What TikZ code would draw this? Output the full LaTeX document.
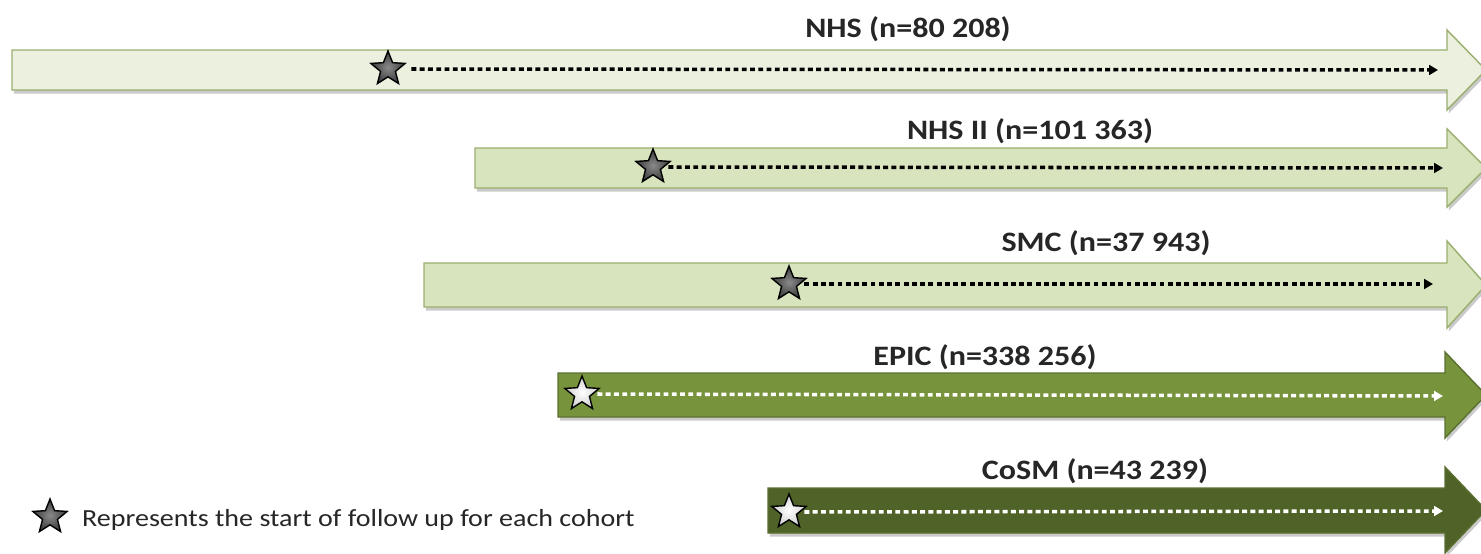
\documentclass[tikz,border=0pt]{standalone}
\usepackage{fontspec}
\setmainfont[FakeStretch=1.14]{Carlito}
\usetikzlibrary{shapes.geometric,shadows,arrows.meta}
\definecolor{fillA}{HTML}{EBF1DE}
\definecolor{fillB}{HTML}{D7E4BD}
\definecolor{fillC}{HTML}{77933C}
\definecolor{fillD}{HTML}{4F6228}
\definecolor{edgeL}{HTML}{9AAE6E}
\definecolor{edgeD}{HTML}{5A7030}
\definecolor{stargrayin}{HTML}{8A8A8A}
\definecolor{stargrayout}{HTML}{3A3A3A}
\definecolor{starwhitein}{HTML}{FFFFFF}
\definecolor{starwhiteout}{HTML}{CFCFCF}
\tikzset{
  cohortbar/.style={draw=edgeL, line width=0.8pt, fill=#1,
    drop shadow={shadow xshift=1pt, shadow yshift=-2pt, opacity=0.35, fill=black!60}},
  darkbar/.style={draw=edgeD, line width=0.8pt, fill=#1,
    drop shadow={shadow xshift=1pt, shadow yshift=-2pt, opacity=0.35, fill=black!60}},
  basestar/.style={star, star points=5, star point ratio=2.3, minimum size=36*0.02cm,
    inner sep=0pt, draw=black, line width=0.8pt},
  graystar/.style={basestar, shading=radial, inner color=stargrayin, outer color=stargrayout},
  whitestar/.style={basestar, shading=radial, inner color=starwhitein, outer color=starwhiteout},
  followline/.style={line width=2pt, dash pattern=on 2.8pt off 1.9pt, #1,
    -{Triangle[length=5pt,width=5.5pt]}},
  cohortlabel/.style={font=\bfseries\fontsize{16}{18}\selectfont, text=black!85},
}
\begin{document}
\begin{tikzpicture}[x=0.02cm,y=-0.02cm]
\useasboundingbox (0,0) rectangle (1481,554);
% NHS
\path[cohortbar=fillA] (12,50) -- (1447,50) -- (1447,30) -- (1486,70) -- (1447,110) -- (1447,90) -- (12,90) -- cycle;
% NHS II
\path[cohortbar=fillB] (475,148) -- (1447,148) -- (1447,129) -- (1486,168) -- (1447,207) -- (1447,188) -- (475,188) -- cycle;
% SMC
\path[cohortbar=fillB] (424,263) -- (1447,263) -- (1447,241) -- (1486,285) -- (1447,328) -- (1447,307) -- (424,307) -- cycle;
% EPIC
\path[darkbar=fillC] (558,373) -- (1445,373) -- (1445,352) -- (1486,395) -- (1445,438) -- (1445,417) -- (558,417) -- cycle;
% CoSM
\path[darkbar=fillD] (768,488) -- (1445,488) -- (1445,467) -- (1486,510) -- (1445,553) -- (1445,533) -- (768,533) -- cycle;

% labels
\node[cohortlabel] (lnhs) at (908,29) {NHS (n=80 208)};
\node[cohortlabel] (lnhs2) at (1030,131) {NHS II (n=101 363)};
\node[cohortlabel] (lsmc) at (1106,243) {SMC (n=37 943)};
\node[cohortlabel] (lepic) at (985,357) {EPIC (n=338 256)};
\node[cohortlabel] (lcosm) at (1095,471) {CoSM (n=43 239)};

% stars and follow-up lines
\node[graystar] (s1) at (388,69) {};
\coordinate (e1) at (1438,70);
\draw[followline=black] (s1.east) ++(12,0) -- (e1);
\node[graystar] (s2) at (653,167) {};
\coordinate (e2) at (1443,168);
\draw[followline=black] (s2.east) ++(4,0) -- (e2);
\node[graystar] (s3) at (789,284) {};
\coordinate (e3) at (1433,284);
\draw[followline=black] (s3.east) ++(4,0) -- (e3);
\node[whitestar] (s4) at (582,394) {};
\coordinate (e4) at (1443,396);
\draw[followline=white] (s4.east) ++(4,0) -- (e4);
\node[whitestar] (s5) at (789,512) {};
\coordinate (e5) at (1443,511);
\draw[followline=white] (s5.east) ++(4,0) -- (e5);

% legend
\node[graystar] (ls) at (50,517) {};
\node[anchor=west, font=\fontsize{14}{16}\selectfont, text=black!85] (lt) at (76,520) {Represents the start of follow up for each cohort};
\end{tikzpicture}
\end{document}
